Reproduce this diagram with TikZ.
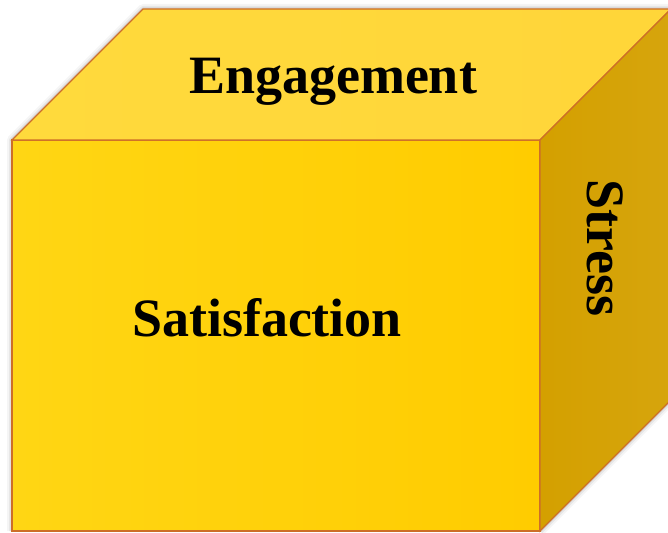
\documentclass[tikz,border=0pt]{standalone}
\usepackage{fontspec}
\setmainfont{Liberation Serif}
\usepackage{tikz}
\usetikzlibrary{calc}
\definecolor{EdgeOrange}{RGB}{205,110,40}
\definecolor{FrontYellow}{RGB}{255,204,0}
\definecolor{FrontLight}{RGB}{255,214,20}
\definecolor{TopYellow}{RGB}{255,218,60}
\definecolor{SideGold}{RGB}{212,160,0}
\tikzset{
  face/.style={draw=EdgeOrange,line width=1.2pt,line join=miter},
  halo/.style={draw=black,line join=round},
  lab/.style={font=\fontsize{54}{60}\selectfont\bfseries,inner sep=0pt},
}

\begin{document}
\begin{tikzpicture}[x=1pt,y=-1pt]
\useasboundingbox (0,0) rectangle (668,532);
\coordinate (f1) at (12,140);
\coordinate (f2) at (540,140);
\coordinate (f3) at (540,531);
\coordinate (f4) at (12,531);
\coordinate (b1) at (143,9);
\coordinate (b2) at (671,9);
\coordinate (b3) at (671,400);
% soft shadow round the box
\foreach \w/\o in {10/0.04,6/0.06,3/0.08}
  \draw[halo,line width=\w pt,opacity=\o] (f4)--(f1)--(b1)--(b2)--(b3)--(f3);
\fill[white] (f4)--(f1)--(b1)--(b2)--(b3)--(f3)--cycle;
% faces
\shade[face,left color=FrontLight,right color=FrontYellow] (f1)--(f2)--(f3)--(f4)--cycle;
\shade[face,left color=TopYellow,right color=TopYellow!95!orange] (f1)--(b1)--(b2)--(f2)--cycle;
\shade[face,left color=SideGold,right color=SideGold!95!white] (f2)--(b2)--(b3)--(f3)--cycle;
% labels
\node[lab] (top) at (333,82) {Engagement};
\node[lab] (front) at (267,318) {Satisfaction};
\node[lab,rotate=-90] (side) at (605,248) {Stress};
\end{tikzpicture}
\end{document}
